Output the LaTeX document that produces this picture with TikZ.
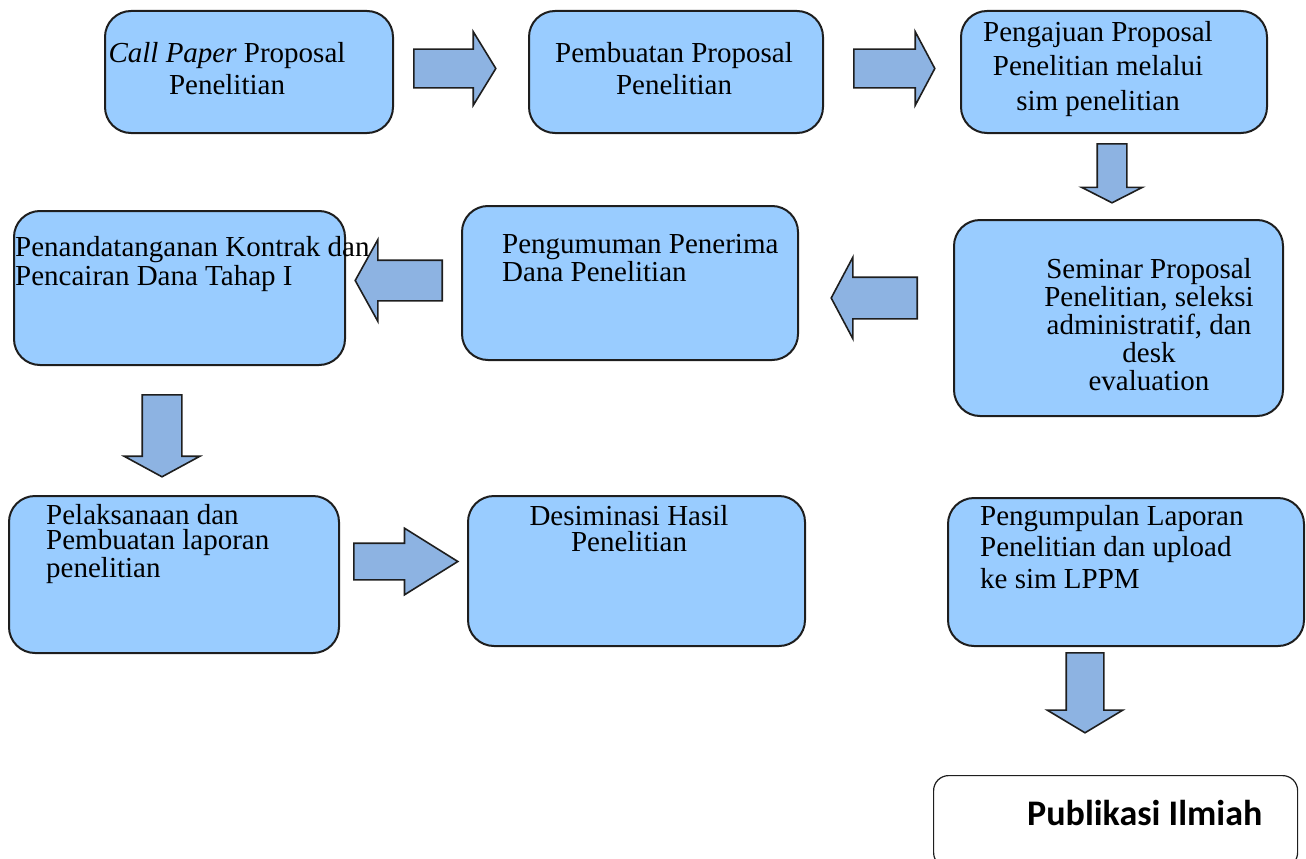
\documentclass[tikz,border=0pt]{standalone}
\usepackage{fontspec}
\setmainfont{Liberation Serif}
\newfontfamily\calibri{Carlito}
\usetikzlibrary{shapes.arrows}

\definecolor{boxblue}{HTML}{99CCFF}
\definecolor{arrblue}{HTML}{8DB3E2}
\definecolor{edge}{HTML}{1E1E1E}

\newcommand{\fs}[1]{\fontsize{29}{#1}\selectfont}

\tikzset{
	box/.style={draw=edge, fill=boxblue, line width=2pt, rounded corners=26pt, inner sep=0pt, anchor=north west},
	blk/.style={single arrow, draw=edge, fill=arrblue, line width=1.6pt, inner xsep=0pt, anchor=tail},
	lbl/.style={inner sep=0pt},
}

\begin{document}
\begin{tikzpicture}[x=1pt,y=-1pt]
	\useasboundingbox (0,0) rectangle (1306,859);

	% boxes
	\node[box, minimum width=288pt, minimum height=122pt] (b1) at (104,10) {};
	\node[box, minimum width=294pt, minimum height=122pt] (b2) at (528,10) {};
	\node[box, minimum width=306pt, minimum height=122pt] (b3) at (960,10) {};
	\node[box, minimum width=329pt, minimum height=196pt] (b4) at (953,219) {};
	\node[box, minimum width=336pt, minimum height=154pt] (b5) at (461,205) {};
	\node[box, minimum width=331pt, minimum height=154pt] (b6) at (13,210) {};
	\node[box, minimum width=330pt, minimum height=157pt] (b7) at (8,495) {};
	\node[box, minimum width=337pt, minimum height=150pt] (b8) at (467,495) {};
	\node[box, minimum width=356pt, minimum height=148pt] (b9) at (947,497) {};
	\node[box, fill=white, line width=1.2pt, rounded corners=15pt, minimum width=364pt, minimum height=92pt] (b10) at (933,775) {};

	% texts (placed at the baseline of their last line)
	\node[lbl, font=\fs{32}, align=center, anchor=base] (t1) at (227,94) {\textit{Call Paper} Proposal\\Penelitian};
	\node[lbl, font=\fs{32}, align=center, anchor=base] (t2) at (674,94) {Pembuatan Proposal\\Penelitian};
	\node[lbl, font=\fs{34}, align=center, anchor=base] (t3) at (1098,110) {Pengajuan Proposal\\Penelitian melalui\\sim penelitian};
	\node[lbl, font=\fs{28}, align=center, anchor=base] (t4) at (1149,390) {Seminar Proposal\\Penelitian, seleksi\\administratif, dan\\desk\\evaluation};
	\node[lbl, font=\fs{26}, align=left, anchor=base west] (t5) at (502,281) {Pengumuman Penerima\\Dana Penelitian};
	\node[lbl, font=\fs{29}, align=left, anchor=base west] (t6) at (15,285) {Penandatanganan Kontrak dan\\Pencairan Dana Tahap I};
	\node[lbl, font=\fs{25.5}, align=left, anchor=base west] (t7) at (46,577) {Pelaksanaan dan\\Pembuatan laporan\\penelitian};
	\node[lbl, font=\fs{26}, align=center, anchor=base] (t8) at (629,551) {Desiminasi Hasil\\Penelitian};
	\node[lbl, font=\fs{31.5}, align=left, anchor=base west] (t9) at (980,588) {Pengumpulan Laporan\\Penelitian dan upload\\ke sim LPPM};
	\node[lbl, font=\calibri\bfseries\fontsize{36}{40}\selectfont, anchor=base west] (t10) at (1027,825) {Publikasi Ilmiah};

	% block arrows
	\node[blk, minimum height=82pt, inner ysep=18.5pt, single arrow head extend=17.5pt, single arrow tip angle=117] (a1) at (413,68.5) {};
	\node[blk, minimum height=81pt, inner ysep=18.5pt, single arrow head extend=17.5pt, single arrow tip angle=124] (a2) at (853,68.5) {};
	\node[blk, rotate=-90, minimum height=59pt, inner ysep=14pt, single arrow head extend=15.5pt, single arrow tip angle=126] (a3) at (1112,143) {};
	\node[blk, rotate=180, minimum height=86pt, inner ysep=20pt, single arrow head extend=20pt, single arrow tip angle=124] (a4) at (918,298) {};
	\node[blk, rotate=180, minimum height=87pt, inner ysep=19.5pt, single arrow head extend=20.5pt, single arrow tip angle=122] (a5) at (443,280.5) {};
	\node[blk, rotate=-90, minimum height=82pt, inner ysep=19pt, single arrow head extend=18pt, single arrow tip angle=123] (a6) at (162,394) {};
	\node[blk, minimum height=104pt, inner ysep=17.5pt, single arrow head extend=15pt, single arrow tip angle=64] (a7) at (353,561.5) {};
	\node[blk, rotate=-90, minimum height=80pt, inner ysep=18pt, single arrow head extend=19pt, single arrow tip angle=118] (a8) at (1085,652) {};
\end{tikzpicture}
\end{document}
